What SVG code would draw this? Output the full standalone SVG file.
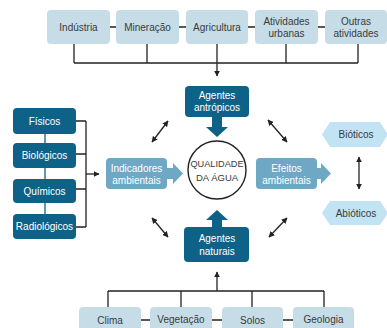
<svg xmlns="http://www.w3.org/2000/svg" width="387" height="328" viewBox="0 0 387 328">
<defs>
<style>
text{font-family:"Liberation Sans",Arial,sans-serif;font-size:10px;text-anchor:middle;dominant-baseline:central}
.lt{fill:#c6dde8}
.dk{fill:#0f6287}
.md{fill:#6ea8c5}
.hx{fill:#c2e3f3}
.tl{fill:#3a3a3a}
.tw{fill:#ffffff}
.ln{stroke:#222;stroke-width:1.3;fill:none}
.dl{stroke:#0f6287;stroke-width:1.3;fill:none}
</style>
<marker id="ah" viewBox="0 0 10 10" refX="9" refY="5" markerWidth="6" markerHeight="6" orient="auto-start-reverse" markerUnits="userSpaceOnUse">
<path d="M0,0 L10,5 L0,10 z" fill="#222"/>
</marker>
</defs>
<rect width="387" height="328" fill="#fff"/>
<g id="top">
<g id="industria"><rect class="lt" x="47" y="10" width="63" height="34" rx="4"/><text class="tl" x="78.5" y="27">Indústria</text></g>
<g id="mineracao"><rect class="lt" x="116" y="10" width="63" height="34" rx="4"/><text class="tl" x="147.5" y="27">Mineração</text></g>
<g id="agricultura"><rect class="lt" x="186" y="10" width="62" height="34" rx="4"/><text class="tl" x="217" y="27">Agricultura</text></g>
<g id="atividades"><rect class="lt" x="255" y="10" width="63" height="34" rx="4"/><text class="tl" x="286.5" y="21">Atividades</text><text class="tl" x="286.5" y="33">urbanas</text></g>
<g id="outras"><rect class="lt" x="325" y="10" width="62" height="34" rx="4"/><text class="tl" x="356" y="21">Outras</text><text class="tl" x="356" y="33">atividades</text></g>
</g>
<g id="antropicos"><rect class="dk" x="185" y="86" width="64" height="31" rx="4"/><text class="tw" x="217" y="95">Agentes</text><text class="tw" x="217" y="107.5">antrópicos</text>
<path class="dk" d="M212,116 L222,116 L222,127 L228,127 L217,137 L206,127 L212,127 z"/></g>
<g id="qualidade"><circle cx="217" cy="170" r="29" fill="#fff" stroke="#222" stroke-width="1.4"/><text class="tl" x="217" y="163.5" style="font-size:9.2px">QUALIDADE</text><text class="tl" x="217" y="177" style="font-size:9.5px">DA ÁGUA</text></g>
<g id="naturais"><rect class="dk" x="184" y="227" width="65" height="35" rx="4"/><text class="tw" x="217" y="238">Agentes</text><text class="tw" x="217" y="251">naturais</text>
<path class="dk" d="M212,228 L222,228 L222,220 L228,220 L217,210 L206,220 L212,220 z"/></g>
<g id="left">
<g id="fisicos"><rect class="dk" x="13" y="108" width="63" height="26" rx="4"/><text class="tw" x="44.5" y="121">Físicos</text></g>
<g id="biologicos"><rect class="dk" x="13" y="143" width="63" height="25" rx="4"/><text class="tw" x="44.5" y="155.5">Biológicos</text></g>
<g id="quimicos"><rect class="dk" x="13" y="179" width="63" height="24" rx="4"/><text class="tw" x="44.5" y="191">Químicos</text></g>
<g id="radiologicos"><rect class="dk" x="13" y="214" width="63" height="25" rx="4"/><text class="tw" x="44.5" y="226.5">Radiológicos</text></g>
</g>
<g id="indicadores"><rect class="md" x="106" y="158" width="61" height="31" rx="4"/><text class="tw" x="136.5" y="168">Indicadores</text><text class="tw" x="136.5" y="180">ambientais</text>
<path class="md" d="M166,168 L173,168 L173,163 L183,173.5 L173,184 L173,179 L166,179 z"/></g>
<g id="efeitos"><rect class="md" x="256" y="158" width="61" height="31" rx="4"/><text class="tw" x="286.5" y="168">Efeitos</text><text class="tw" x="286.5" y="180">ambientais</text>
<path class="md" d="M316,168 L321,168 L321,163 L331,173.5 L321,184 L321,179 L316,179 z"/></g>
<g id="bioticos"><polygon class="hx" points="330,122 380,122 388,134.5 380,147 330,147 322,134.5"/><text class="tl" x="356" y="134.5">Bióticos</text></g>
<g id="abioticos"><polygon class="hx" points="330,201 380,201 388,213 380,225 330,225 322,213"/><text class="tl" x="356" y="213">Abióticos</text></g>
<g id="bottom">
<g id="clima"><rect class="lt" x="79" y="307" width="62" height="30" rx="4"/><text class="tl" x="110" y="320">Clima</text></g>
<g id="vegetacao"><rect class="lt" x="150" y="307" width="62" height="30" rx="4"/><text class="tl" x="181" y="319">Vegetação</text></g>
<g id="solos"><rect class="lt" x="222" y="307" width="61" height="30" rx="4"/><text class="tl" x="252.5" y="320">Solos</text></g>
<g id="geologia"><rect class="lt" x="293" y="307" width="61" height="30" rx="4"/><text class="tl" x="323.5" y="319">Geologia</text></g>
</g>
<g id="connectors">
<path class="ln" d="M110,27 H116 M179,27 H186 M248,27 H255 M318,27 H325"/>
<path class="ln" d="M74,44 V63 M147,44 V63 M286,44 V63 M358,44 V63 M74,63 H358"/>
<path class="ln" d="M217,44 V76" marker-end="url(#ah)"/>
<path class="ln" d="M141,320 H150 M212,320 H222 M283,320 H293"/>
<path class="ln" d="M108,307 V291 M181,307 V291 M252,307 V291 M324,307 V291 M108,291 H324"/>
<path class="ln" d="M217,291 V272" marker-end="url(#ah)"/>
<path class="dl" d="M45,134 V143 M45,168 V179 M45,203 V214"/>
<path class="ln" d="M76,121 H86 M76,154 H86 M76,189 H86 M76,227 H86 M86,121 V227"/>
<path class="ln" d="M86,174 H99" marker-end="url(#ah)"/>
<path class="ln" d="M152,142 L168,121" marker-start="url(#ah)" marker-end="url(#ah)"/>
<path class="ln" d="M152,218 L168,237" marker-start="url(#ah)" marker-end="url(#ah)"/>
<path class="ln" d="M268,120 L287,142" marker-start="url(#ah)" marker-end="url(#ah)"/>
<path class="ln" d="M287,218 L269,237" marker-start="url(#ah)" marker-end="url(#ah)"/>
<path class="ln" d="M359,157 V189" marker-start="url(#ah)" marker-end="url(#ah)"/>
</g>
</svg>
